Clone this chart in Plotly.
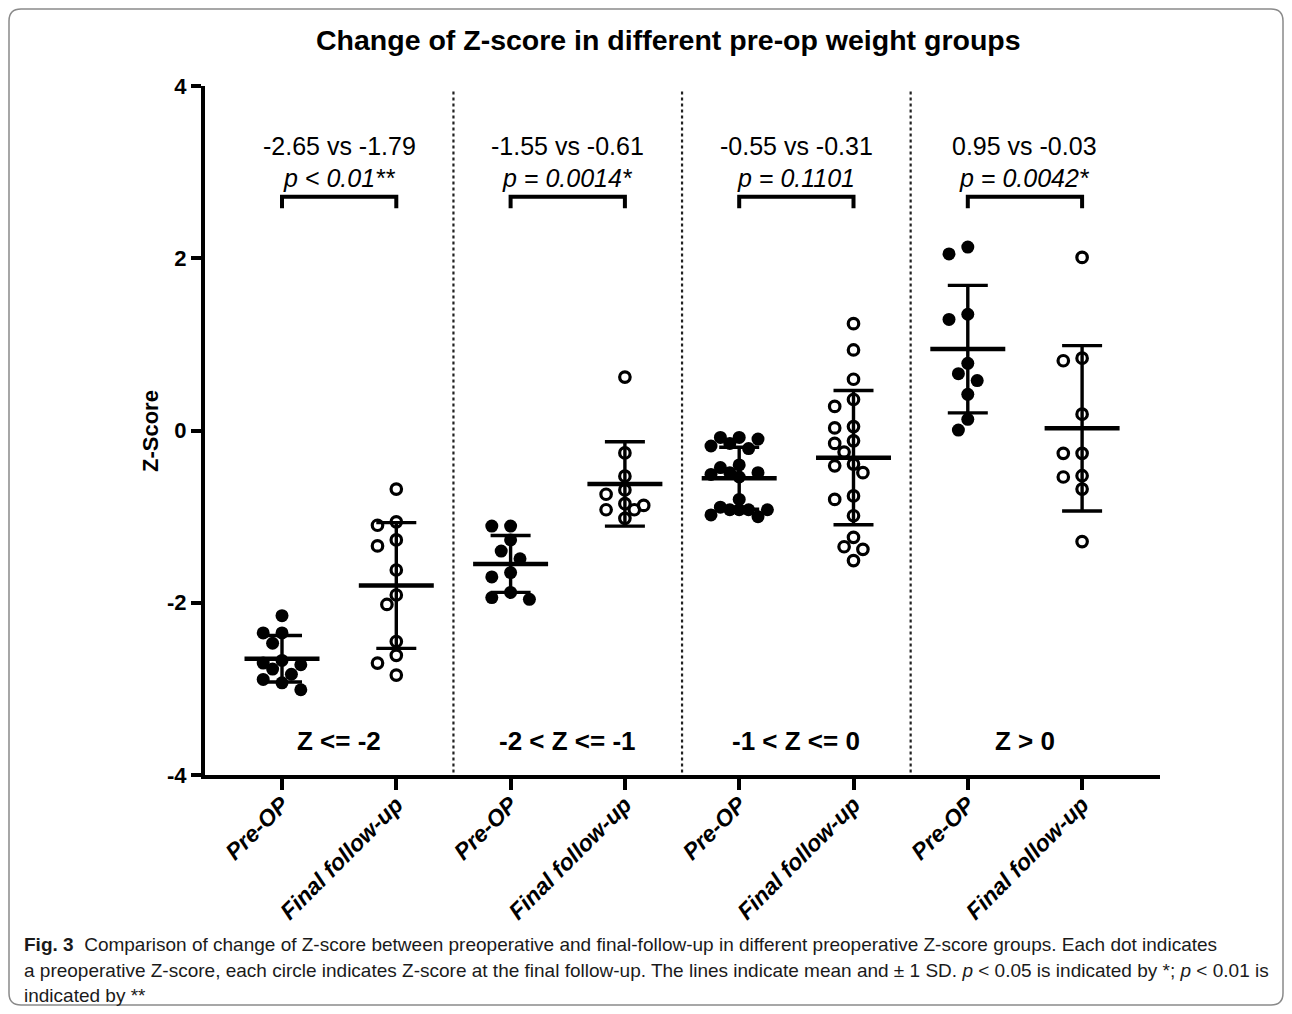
import plotly.graph_objects as go

# ---------------- data ----------------
tick_labels = ["Pre-OP", "Final follow-up"] * 4
group_labels = ["Z <= -2", "-2 < Z <= -1", "-1 < Z <= 0", "Z > 0"]
compare_texts = ["-2.65 vs -1.79", "-1.55 vs -0.61", "-0.55 vs -0.31", "0.95 vs -0.03"]
p_texts = ["p < 0.01**", "p = 0.0014*", "p = 0.1101", "p = 0.0042*"]

g1_pre = [-2.15, -2.35, -2.35, -2.47, -2.67, -2.70, -2.72, -2.77, -2.83, -2.89, -2.93, -3.01]
g1_final = [-0.68, -1.06, -1.10, -1.27, -1.34, -1.62, -1.91, -2.02, -2.45, -2.61, -2.70, -2.84]
g2_pre = [-1.11, -1.11, -1.27, -1.40, -1.49, -1.65, -1.70, -1.88, -1.94, -1.96]
g2_final = [0.62, -0.26, -0.53, -0.69, -0.74, -0.85, -0.87, -0.92, -0.92, -1.02]
g3_pre = [-0.08, -0.08, -0.10, -0.15, -0.18, -0.21, -0.40, -0.43, -0.49, -0.49,
          -0.51, -0.54, -0.80, -0.89, -0.92, -0.92, -0.92, -0.92, -0.98, -1.00]
g3_final = [1.24, 0.935, 0.595, 0.36, 0.28, 0.045, 0.03, -0.12, -0.15, -0.25,
            -0.39, -0.41, -0.49, -0.76, -0.80, -0.99, -1.24, -1.35, -1.38, -1.51]
g4_pre = [2.13, 2.05, 1.35, 1.29, 0.78, 0.66, 0.58, 0.42, 0.13, 0.005]
g4_final = [2.01, 0.84, 0.81, 0.19, -0.265, -0.265, -0.525, -0.54, -0.68, -1.29]

series = [g1_pre, g1_final, g2_pre, g2_final, g3_pre, g3_final, g4_pre, g4_final]
filled = [True, False] * 4

# mean and SD
mean_vals = [-2.65, -1.80, -1.55, -0.62, -0.555, -0.315, 0.945, 0.025]
sd_vals = [0.27, 0.73, 0.33, 0.49, 0.36, 0.78, 0.74, 0.96]

# ---------------- layout constants ----------------
OFF = 8                      # page body margin
W, H = 1292 - 2 * OFF, 1014 - OFF
L, R, T, B = 205 - OFF, 1160 - OFF, 86 - OFF, 775 - OFF
xr = [-0.6737, 7.6815]
yr = [-4, 4]
px_per_x = (R - L) / (xr[1] - xr[0])
px_per_y = (B - T) / (yr[1] - yr[0])

FONT = "Arial, Liberation Sans, Arimo, Helvetica, sans-serif"

def swarm(vals, step_px=9.4, diam_px=12.2, kmax=3):
    placed = []
    offs = []
    k_order = [0]
    for k in range(1, kmax + 1):
        k_order += [-k, k]
    for v in vals:
        yp = v * px_per_y
        best_k, best_d = None, -1
        for k in k_order:
            ox = k * step_px
            dmin = min([((ox - a) ** 2 + (yp - b) ** 2) ** 0.5 for a, b in placed] or [1e9])
            if dmin >= diam_px:
                best_k = k
                break
            if dmin > best_d + 0.5:
                best_k, best_d = k, dmin
        ox = best_k * step_px
        placed.append((ox, yp))
        offs.append(ox / px_per_x)
    return offs

fig = go.Figure()
cat_x = list(range(len(series)))

for i, vals in enumerate(series):
    offs = swarm(vals)
    xs = [cat_x[i] + o for o in offs]
    if filled[i]:
        marker = dict(symbol="circle", size=13, color="black", line=dict(width=0))
    else:
        marker = dict(symbol="circle-open", size=10.5, color="black", line=dict(width=3.2, color="black"))
    fig.add_trace(go.Scatter(x=xs, y=vals, mode="markers", marker=marker,
                             showlegend=False, hoverinfo="y"))
    fig.add_trace(go.Scatter(
        x=[cat_x[i]], y=[mean_vals[i]], mode="markers",
        marker=dict(size=1, opacity=0),
        error_y=dict(type="data", array=[sd_vals[i]], symmetric=True,
                     thickness=3.4, width=20, color="black"),
        showlegend=False, hoverinfo="skip"))
    fig.add_trace(go.Scatter(
        x=[cat_x[i]], y=[mean_vals[i]], mode="markers",
        marker=dict(size=1, opacity=0),
        error_x=dict(type="data", array=[0.328], symmetric=True,
                     thickness=4.5, width=0, color="black"),
        showlegend=False, hoverinfo="skip"))

shapes = []
for d in [1.5, 3.5, 5.5]:
    shapes.append(dict(type="line", xref="x", yref="y", x0=d, x1=d, y0=-3.97, y1=3.97,
                       line=dict(color="#222222", width=2.2, dash="dot")))
for g in range(4):
    x0, x1 = cat_x[2 * g], cat_x[2 * g + 1]
    shapes.append(dict(type="path", xref="x", yref="y",
                       path=f"M {x0},2.58 L {x0},2.715 L {x1},2.715 L {x1},2.58",
                       line=dict(color="black", width=4)))

def px2paper(x, y):
    """reference-image pixel -> paper coords"""
    x -= OFF
    y -= OFF
    return (x - L) / (R - L), (B - y) / (B - T)

bx0, by0, bx1, by1, rad = 9, 9, 1283, 1005, 12
def P(x, y):
    a, b = px2paper(x, y)
    return f"{a:.5f},{b:.5f}"
path = (f"M {P(bx0 + rad, by0)} L {P(bx1 - rad, by0)} Q {P(bx1, by0)} {P(bx1, by0 + rad)} "
        f"L {P(bx1, by1 - rad)} Q {P(bx1, by1)} {P(bx1 - rad, by1)} "
        f"L {P(bx0 + rad, by1)} Q {P(bx0, by1)} {P(bx0, by1 - rad)} "
        f"L {P(bx0, by0 + rad)} Q {P(bx0, by0)} {P(bx0 + rad, by0)} Z")
shapes.append(dict(type="path", xref="paper", yref="paper", path=path,
                   line=dict(color="#8a8a8a", width=1.5), layer="below"))

annotations = []
for g in range(4):
    xm = (cat_x[2 * g] + cat_x[2 * g + 1]) / 2
    annotations.append(dict(x=xm, y=3.30, xref="x", yref="y", text=compare_texts[g],
                            showarrow=False, font=dict(size=25, color="black", family=FONT)))
    annotations.append(dict(x=xm, y=2.93, xref="x", yref="y", text=f"<i>{p_texts[g]}</i>",
                            showarrow=False, font=dict(size=25, color="black", family=FONT)))
    annotations.append(dict(x=xm, y=-3.61, xref="x", yref="y", text=f"<b>{group_labels[g]}</b>",
                            showarrow=False, font=dict(size=26, color="black", family=FONT)))

tx, ty = px2paper(668, 40)
annotations.append(dict(x=tx, y=ty, xref="paper", yref="paper",
                        text="<b>Change of Z-score in different pre-op weight groups</b>",
                        showarrow=False, xanchor="center", yanchor="middle",
                        font=dict(size=28.5, color="black", family=FONT)))
yx, yy = px2paper(150, 431)
annotations.append(dict(x=yx, y=yy, xref="paper", yref="paper", text="<b>Z-Score</b>",
                        showarrow=False, textangle=-90, xanchor="center", yanchor="middle",
                        font=dict(size=22, color="black", family=FONT)))

cap_font = dict(size=19, color="#1a1a1a", family=FONT)
cap_lines = [
    "<b>Fig. 3</b>  Comparison of change of Z-score between preoperative and final-follow-up in different preoperative Z-score groups. Each dot indicates",
    "a preoperative Z-score, each circle indicates Z-score at the final follow-up. The lines indicate mean and ± 1 SD. <i>p</i> < 0.05 is indicated by *; <i>p</i> < 0.01 is",
    "indicated by **",
]
for line, ypx in zip(cap_lines, [945, 970, 995]):
    cx, cy = px2paper(22, ypx)
    annotations.append(dict(x=cx, y=cy, xref="paper", yref="paper", text=line,
                            showarrow=False, xanchor="left", yanchor="middle", font=cap_font))

fig.update_layout(
    width=W, height=H,
    margin=dict(l=L, r=W - R, t=T, b=H - B, pad=0),
    paper_bgcolor="white", plot_bgcolor="white",
    shapes=shapes, annotations=annotations,
    showlegend=False,
    xaxis=dict(range=xr, tickmode="array", tickvals=cat_x, ticktext=tick_labels,
               tickangle=-45, showgrid=False, zeroline=False,
               showline=True, linecolor="black", linewidth=4,
               ticks="outside", ticklen=11, tickwidth=4, tickcolor="black",
               ticklabelstandoff=-8,
               tickfont=dict(size=23, color="black", family=FONT,
                             weight="bold", style="italic")),
    yaxis=dict(range=yr, tickmode="array", tickvals=[-4, -2, 0, 2, 4],
               ticktext=["-4", "-2", "0", "2", "4"],
               showgrid=False, zeroline=False,
               showline=True, linecolor="black", linewidth=4,
               ticks="outside", ticklen=10, tickwidth=4, tickcolor="black",
               tickfont=dict(size=22, color="black", family=FONT, weight="bold")),
)

fig.write_html("out.html")
